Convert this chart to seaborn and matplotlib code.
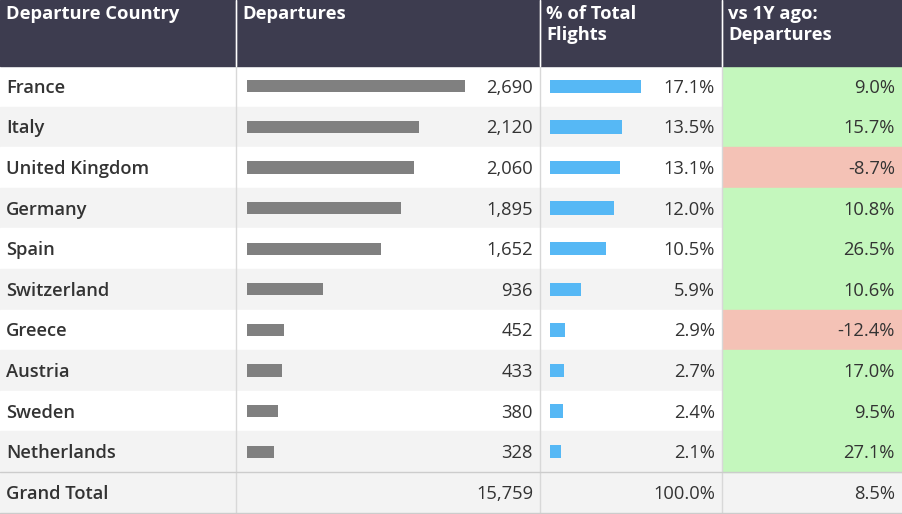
import matplotlib
matplotlib.use("Agg")
import matplotlib.pyplot as plt
import seaborn as sns
from matplotlib.patches import Rectangle

countries = ["France","Italy","United Kingdom","Germany","Spain","Switzerland","Greece","Austria","Sweden","Netherlands"]
departures = [2690,2120,2060,1895,1652,936,452,433,380,328]
pct_total = [17.1,13.5,13.1,12.0,10.5,5.9,2.9,2.7,2.4,2.1]
vs_1y = [9.0,15.7,-8.7,10.8,26.5,10.6,-12.4,17.0,9.5,27.1]
total_dep = "15,759"; total_pct = "100.0%"; total_vs = "8.5%"
headers = ["Departure Country","Departures","% of Total\nFlights","vs 1Y ago:\nDepartures"]

sns.set_theme(style="white")
plt.rcParams['font.family'] = ['Open Sans', 'DejaVu Sans']
W, H = 902, 514
fig = plt.figure(figsize=(W/100, H/100), dpi=100)
ax = fig.add_axes([0,0,1,1]); ax.set_xlim(0,W); ax.set_ylim(H,0); ax.axis("off")

cols = [0,236,540,722,902]
hdr_h = 66; row_h = 40.6; n = len(countries)
fs = 13.2
ax.add_patch(Rectangle((0,0),W,hdr_h,color="#3d3c4f"))
for i,h in enumerate(headers):
    ax.text(cols[i]+6, 5, h, color="white", fontsize=fs, fontweight="bold", va="top", linespacing=1.2)
for c in cols[1:-1]:
    ax.plot([c,c],[0,H],color="#d8d8d8",lw=1)
for c in cols[1:-1]:
    ax.plot([c,c],[0,hdr_h],color="white",lw=1)
for r in range(n+1):
    y0 = hdr_h + r*row_h
    bg = "#ffffff" if r%2==0 else "#f3f3f3"
    if r==n: bg="#f3f3f3"
    ax.add_patch(Rectangle((0,y0),W,row_h,color=bg,zorder=0))
    if r<n:
        colr = "#c4f7bd" if vs_1y[r]>=0 else "#f4c2b6"
        ax.add_patch(Rectangle((cols[3]+1,y0),W-cols[3]-1,row_h,color=colr,zorder=0.5))
    yc = y0+row_h/2+1.5
    kw = dict(fontsize=fs,color="#333333",va="center")
    if r<n:
        ax.text(6,yc,countries[r],fontweight="semibold",**kw)
        ax.text(533,yc,f"{departures[r]:,}",ha="right",**kw)
        ax.text(715,yc,f"{pct_total[r]:.1f}%",ha="right",**kw)
        ax.text(895,yc,f"{vs_1y[r]:.1f}%",ha="right",**kw)
    else:
        ax.plot([0,W],[y0,y0],color="#cccccc",lw=1)
        ax.plot([0,W],[H-1,H-1],color="#cccccc",lw=1)
        ax.text(6,yc,"Grand Total",fontweight="semibold",**kw)
        ax.text(533,yc,total_dep,ha="right",**kw)
        ax.text(715,yc,total_pct,ha="right",**kw)
        ax.text(895,yc,total_vs,ha="right",**kw)

def bar_axes(x0, x1):
    a = fig.add_axes([x0/W, 1-(hdr_h+n*row_h)/H, (x1-x0)/W, n*row_h/H])
    a.patch.set_alpha(0)
    return a
a1 = bar_axes(247, 465)
sns.barplot(x=departures, y=countries, orient="h", color="#808080", saturation=1, width=0.3, linewidth=0, ax=a1)
a1.set_xlim(0, departures[0]); a1.set_ylim(n-0.5,-0.5); a1.axis("off")
a2 = bar_axes(550, 641)
sns.barplot(x=pct_total, y=countries, orient="h", color="#56b8f5", saturation=1, width=0.33, linewidth=0, ax=a2)
a2.set_xlim(0, pct_total[0]); a2.set_ylim(n-0.5,-0.5); a2.axis("off")

fig.savefig("out.png", dpi=100)
